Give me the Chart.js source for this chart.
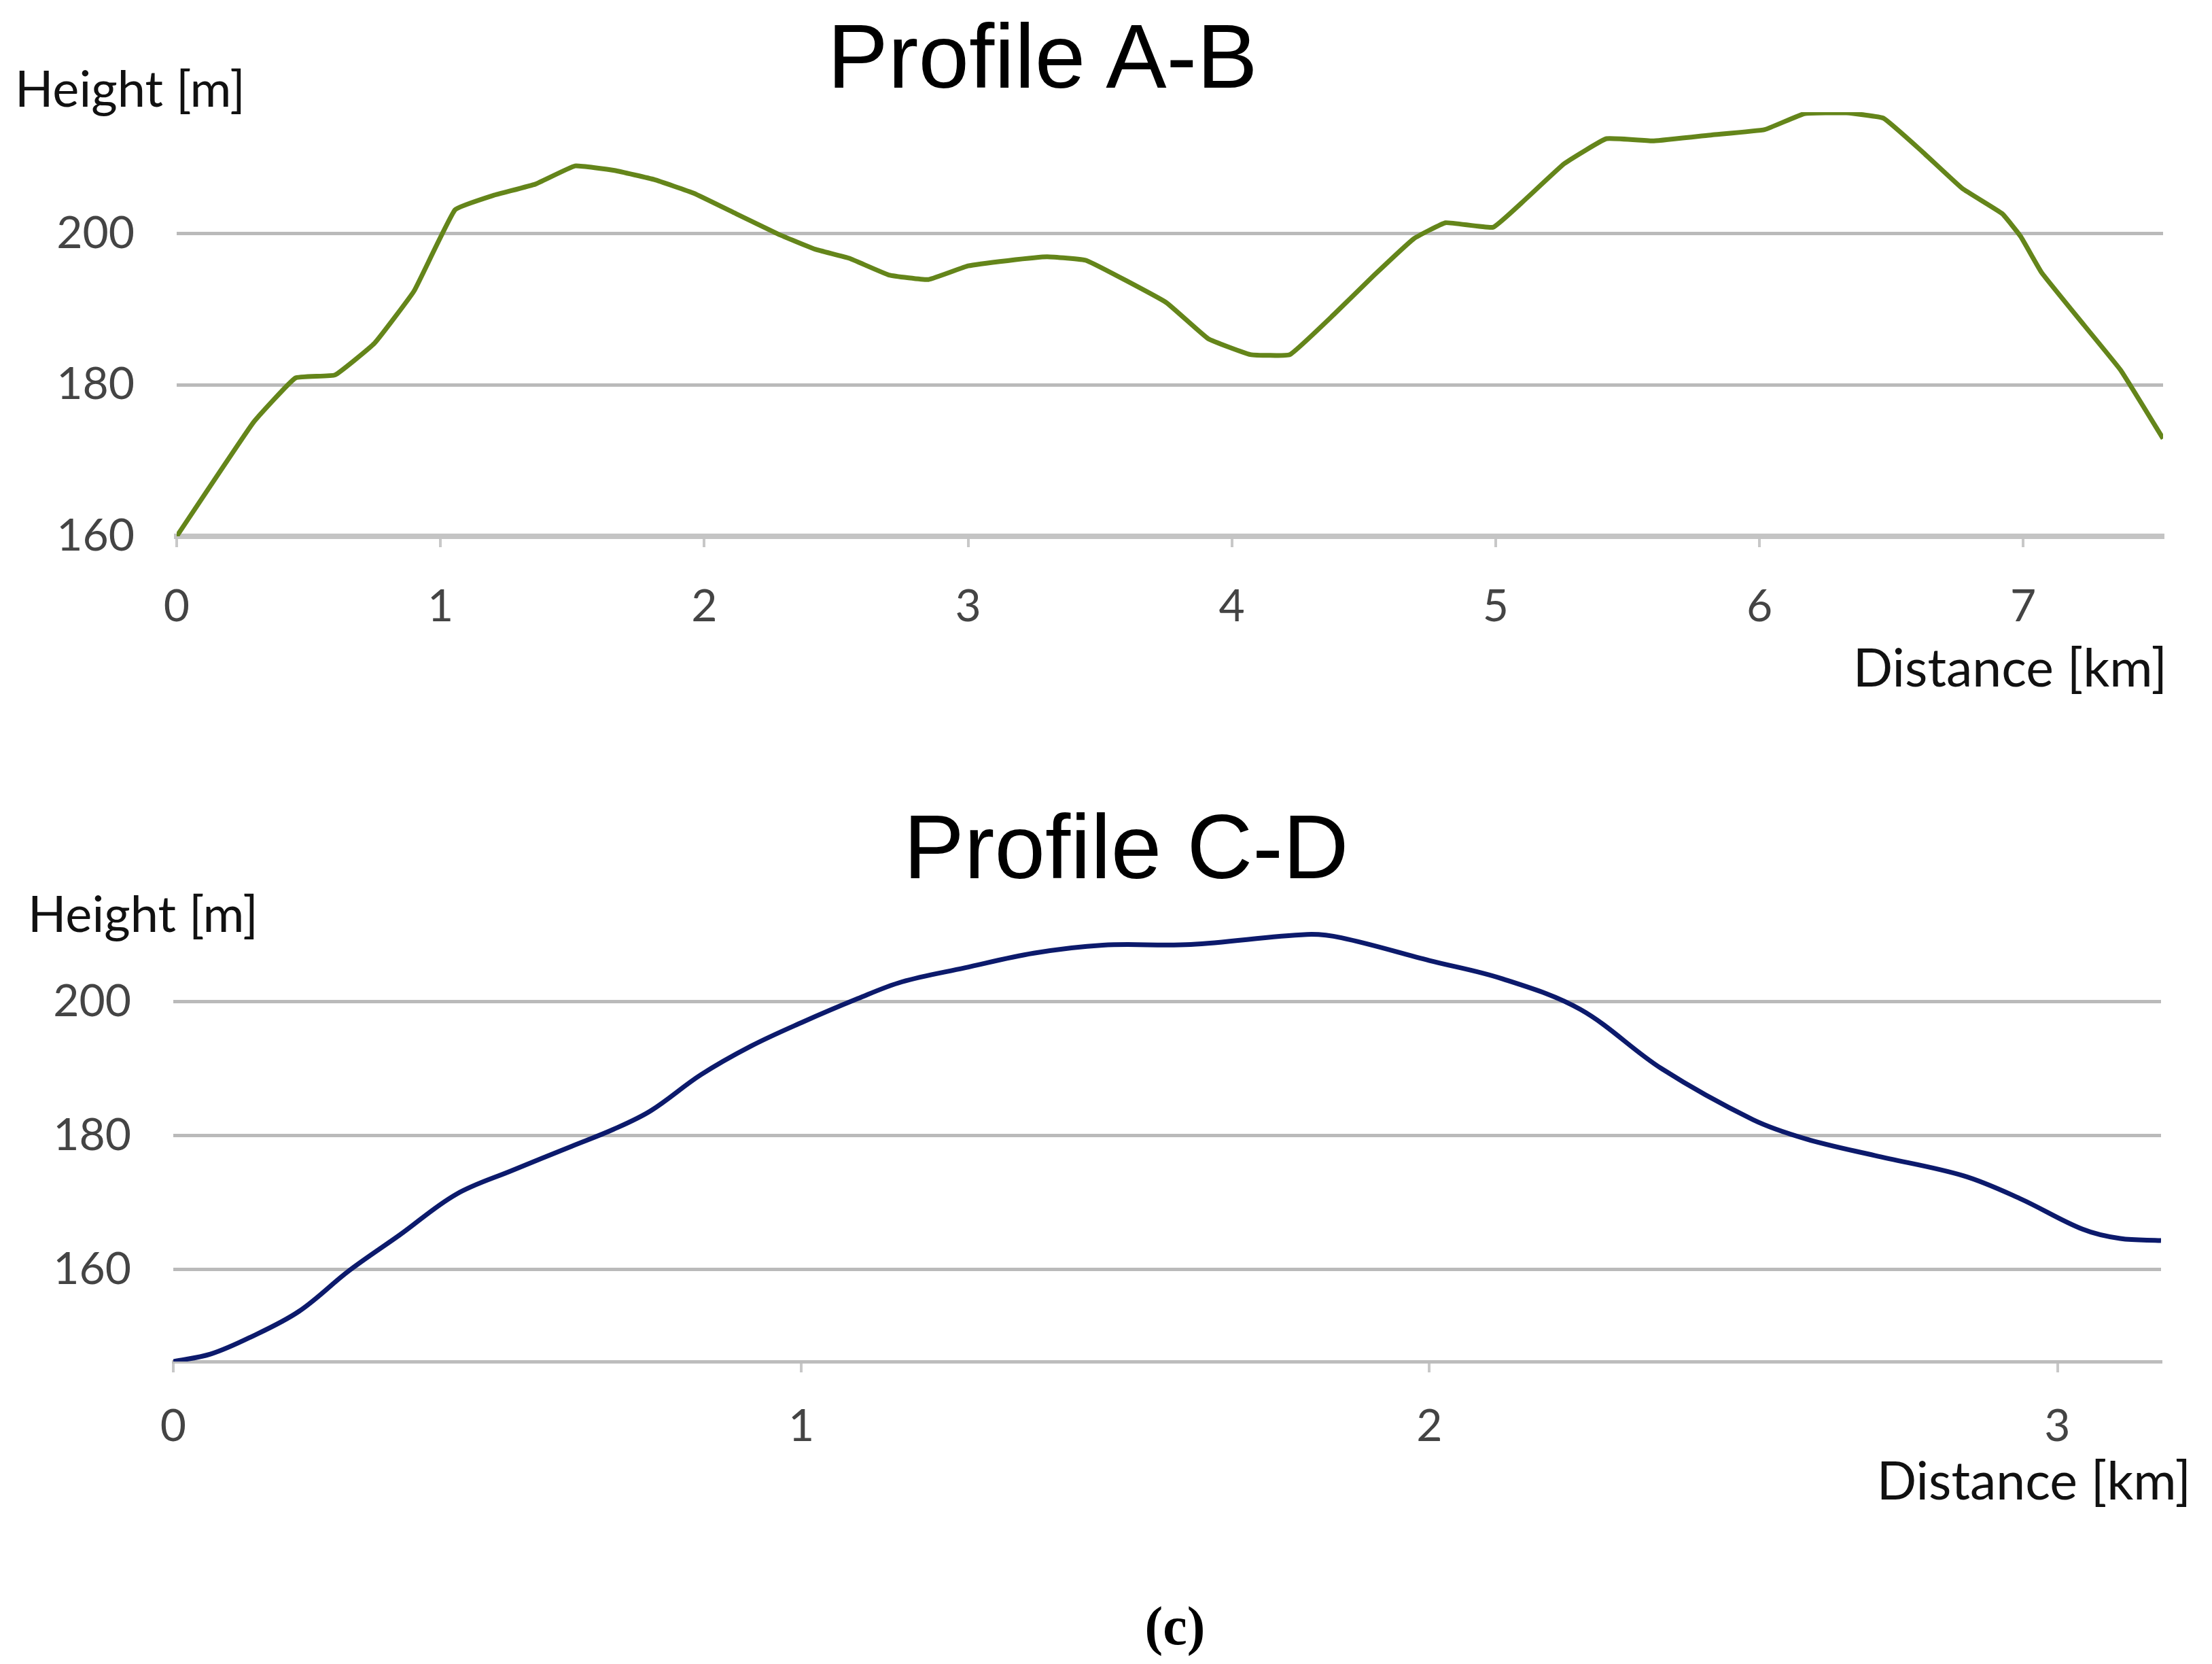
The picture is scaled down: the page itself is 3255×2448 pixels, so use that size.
<!DOCTYPE html>
<html>
<head>
<meta charset="utf-8">
<script src="https://cdn.jsdelivr.net/npm/chart.js@4.4.1/dist/chart.umd.min.js"></script>
<style>
  html, body { margin: 0; padding: 0; background: #fff; }
  body { width: 3255px; height: 2448px; position: relative; overflow: hidden; }
  .box { position: absolute; left: 0; width: 3255px; }
  .lbl { position: absolute; font-family: Lato, sans-serif; font-size: 77px; color: #111; line-height: 1; white-space: nowrap; }
  .lbl.h { font-size: 74px; }
  .ttl { position: absolute; font-family: "Liberation Sans", Arial, sans-serif; font-size: 134px; color: #000; line-height: 1; white-space: nowrap; transform: translate(-50%, -50%); }
</style>
</head>
<body>
<div class="box" id="boxAB" style="top:0; height:1010px;"><canvas id="chartAB"></canvas></div>
<div class="box" id="boxCD" style="top:1180px; height:960px;"><canvas id="chartCD"></canvas></div>

<div class="ttl" style="left:1534px; top:83px;">Profile A-B</div>
<div class="lbl h" style="left:22px; top:92px;">Height [m]</div>
<div class="lbl" style="right:66px; top:942px;">Distance [km]</div>

<div class="ttl" style="left:1657px; top:1246px;">Profile C-D</div>
<div class="lbl h" style="left:41px; top:1306px;">Height [m]</div>
<div class="lbl" style="right:31px; top:2138px;">Distance [km]</div>

<div style="position:absolute; left:1729px; top:2392px; transform:translate(-50%,-50%); font-family:'Liberation Serif', serif; font-weight:bold; font-size:80px; color:#000; line-height:1;">(c)</div>

<script>
// profile A-B
const abDistance = [0, 0.29, 0.45, 0.60, 0.75, 0.90, 1.055, 1.20, 1.36, 1.51, 1.66, 1.81, 1.96, 2.12, 2.28, 2.42, 2.55, 2.70, 2.85, 3.00, 3.15, 3.30, 3.45, 3.75, 3.91, 4.07, 4.22, 4.39, 4.54, 4.69, 4.81, 4.99, 5.11, 5.26, 5.42, 5.60, 5.82, 6.02, 6.17, 6.33, 6.47, 6.62, 6.77, 6.92, 6.99, 7.07, 7.23, 7.37, 7.53];
const abHeight = [160, 175, 180.9, 181.3, 185.5, 192.4, 203.1, 205.0, 206.5, 208.9, 208.3, 207.1, 205.3, 202.6, 199.9, 197.9, 196.7, 194.5, 193.9, 195.7, 196.4, 196.9, 196.4, 190.9, 186.1, 184.0, 184.0, 189.4, 194.5, 199.3, 201.4, 200.8, 204.4, 209.2, 212.5, 212.2, 213.0, 213.7, 215.8, 215.9, 215.2, 210.7, 205.9, 202.6, 199.6, 194.8, 187.9, 181.9, 172.9];
const abXTicks = [0, 1, 2, 3, 4, 5, 6, 7];
const abYTicks = [160, 180, 200];

// profile C-D
const cdDistance = [0, 0.059, 0.122, 0.20, 0.28, 0.36, 0.45, 0.54, 0.634, 0.70, 0.76, 0.84, 0.92, 1.0, 1.09, 1.16, 1.26, 1.37, 1.48, 1.62, 1.805, 1.86, 2.0, 2.115, 2.24, 2.37, 2.515, 2.60, 2.71, 2.85, 2.94, 3.04, 3.10, 3.165];
const cdHeight = [146.2, 147.3, 149.8, 153.7, 159.8, 165.1, 171.2, 174.8, 178.4, 180.9, 183.7, 189.1, 193.4, 196.9, 200.5, 203.0, 205.1, 207.3, 208.5, 208.6, 210.1, 209.6, 206.2, 203.5, 198.9, 190.0, 182.4, 179.5, 177.0, 174.0, 170.6, 166.0, 164.6, 164.3];
const cdXTicks = [0, 1, 2, 3];
const cdYTicks = [160, 180, 200];

Chart.defaults.font.family = "Lato, sans-serif";
Chart.defaults.font.size = 66;
Chart.defaults.color = "#444";

function profileChart(id, xs, ys, xTicks, yTicks, opts) {
  const pts = xs.map((x, i) => ({ x: x, y: ys[i] }));
  return new Chart(document.getElementById(id), {
    type: 'line',
    data: {
      datasets: [{
        data: pts,
        borderColor: opts.color,
        borderWidth: 7,
        pointRadius: 0,
        tension: opts.tension,
        fill: false
      }]
    },
    options: {
      responsive: true,
      maintainAspectRatio: false,
      animation: false,
      layout: { padding: { top: opts.padTop, right: opts.padRight, left: 0, bottom: 0 } },
      plugins: { legend: { display: false }, tooltip: { enabled: false } },
      scales: {
        x: {
          type: 'linear',
          min: 0,
          max: opts.xMax,
          afterBuildTicks: (axis) => { axis.ticks = xTicks.map(v => ({ value: v })); },
          afterFit: (axis) => { axis.height = opts.xAxisH; },
          grid: { drawOnChartArea: false, drawTicks: true, tickLength: 16, color: '#c8c8c8', lineWidth: 4 },
          border: { display: true, color: opts.axisColor, width: opts.axisWidth },
          ticks: { padding: opts.xPad, maxRotation: 0, color: '#444' }
        },
        y: {
          min: opts.yMin,
          max: opts.yMax,
          afterBuildTicks: (axis) => { axis.ticks = yTicks.map(v => ({ value: v })); },
          afterFit: (axis) => { axis.width = opts.yAxisW; },
          grid: { drawTicks: false, color: '#bababa', lineWidth: 5 },
          border: { display: false },
          ticks: { padding: opts.yPad, color: '#444' }
        }
      }
    }
  });
}

profileChart('chartAB', abDistance, abHeight, abXTicks, abYTicks, {
  color: '#64851a', tension: 0.1,
  xMax: 7.53, yMin: 160, yMax: 216,
  padTop: 165, padRight: 72, xAxisH: 221, yAxisW: 260,
  xPad: 48, yPad: 62, axisColor: '#c4c4c4', axisWidth: 8
});

profileChart('chartCD', cdDistance, cdHeight, cdXTicks, cdYTicks, {
  color: '#0c1a6c', tension: 0.35,
  xMax: 3.165, yMin: 146.2, yMax: 212,
  padTop: 176, padRight: 75, xAxisH: 137, yAxisW: 255,
  xPad: 40, yPad: 62, axisColor: '#bdbdbd', axisWidth: 5
});
</script>
</body>
</html>
